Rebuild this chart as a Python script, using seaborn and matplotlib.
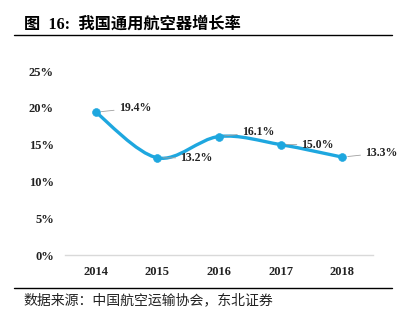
import matplotlib
matplotlib.use("Agg")
import matplotlib.pyplot as plt
from matplotlib.path import Path
from matplotlib.patches import PathPatch
import seaborn as sns
import pandas as pd
import numpy as np

years = ["2014", "2015", "2016", "2017", "2018"]
growth = [0.194, 0.132, 0.161, 0.150, 0.133]
labels = ["19.4%", "13.2%", "16.1%", "15.0%", "13.3%"]
yticks = [0, 0.05, 0.10, 0.15, 0.20, 0.25]
ytick_labels = ["0%", "5%", "10%", "15%", "20%", "25%"]

sns.set_theme(style="white")
plt.rcParams['font.family'] = ['Liberation Serif', 'Noto Sans CJK SC', 'DejaVu Sans']

W, H = 404, 327
fig = plt.figure(figsize=(W / 100, H / 100), dpi=100)
ax = fig.add_axes([65 / W, 1 - 255 / H, (373 - 65) / W, (255 - 71) / H])

df = pd.DataFrame({"year": years, "growth": growth})
color = "#1EA7DF"
xs = np.arange(len(years))

# smooth line (Excel-like) via cubic Bezier segments through the data points
ys = np.array(growth)
verts = [(xs[0], ys[0])]
codes = [Path.MOVETO]
n = len(xs)
for i in range(n - 1):
    p0 = np.array([xs[max(i - 1, 0)], ys[max(i - 1, 0)]])
    p1 = np.array([xs[i], ys[i]])
    p2 = np.array([xs[i + 1], ys[i + 1]])
    p3 = np.array([xs[min(i + 2, n - 1)], ys[min(i + 2, n - 1)]])
    c1 = p1 + (p2 - p0) / 6
    c2 = p2 - (p3 - p1) / 6
    verts += [tuple(c1), tuple(c2), tuple(p2)]
    codes += [Path.CURVE4] * 3
ax.add_patch(PathPatch(Path(verts, codes), facecolor="none", edgecolor=color,
                       lw=2.4, capstyle="round", zorder=2))

sns.scatterplot(data=df, x="year", y="growth", ax=ax, color=color, s=32,
                edgecolor=color, zorder=3, legend=False)

# data labels with leader lines
offsets = [(22, 4), (22, 0), (22, 4), (20, 0), (22, 4)]
for i, (lab, (dx, dy)) in enumerate(zip(labels, offsets)):
    ax.annotate(lab, xy=(i, growth[i]), xytext=(dx * 0.75, dy * 0.75),
                textcoords="offset points", ha="left", va="center",
                fontsize=8.5, fontweight="bold", color="#222222",
                arrowprops=dict(arrowstyle="-", color="#A0A0A0", lw=0.6,
                                shrinkA=1, shrinkB=4))

ax.set_xlim(-0.5, len(years) - 0.5)
ax.set_ylim(0, 0.25)
ax.set_yticks(yticks)
ax.set_yticklabels(ytick_labels)
ax.set_xlabel("")
ax.set_ylabel("")
for s in ["top", "right", "left"]:
    ax.spines[s].set_visible(False)
ax.spines["bottom"].set_color("#D9D9D9")
ax.spines["bottom"].set_linewidth(1.0)
ax.tick_params(axis="both", length=0, labelsize=9, colors="#222222")
ax.tick_params(axis="x", pad=8)
ax.tick_params(axis="y", pad=8)
for t in ax.get_xticklabels() + ax.get_yticklabels():
    t.set_fontweight("bold")
ax.grid(False)
ax.set_facecolor("none")

# title and rules
fig.text(24 / W, 1 - 25 / H, "图  16:  我国通用航空器增长率", fontsize=11.7,
         fontweight="bold", va="center", ha="left", color="black")
fig.add_artist(plt.Line2D([14 / W, 392 / W], [1 - 35 / H, 1 - 35 / H],
                          color="black", lw=1.0))
fig.add_artist(plt.Line2D([14 / W, 392 / W], [1 - 288 / H, 1 - 288 / H],
                          color="black", lw=1.0))
fig.text(23 / W, 1 - 300 / H, "数据来源：中国航空运输协会，东北证券", fontsize=10,
         va="center", ha="left", color="#222222",
         family=['Noto Sans CJK SC', 'DejaVu Sans'])

fig.savefig("out.png", dpi=100, facecolor="white")
